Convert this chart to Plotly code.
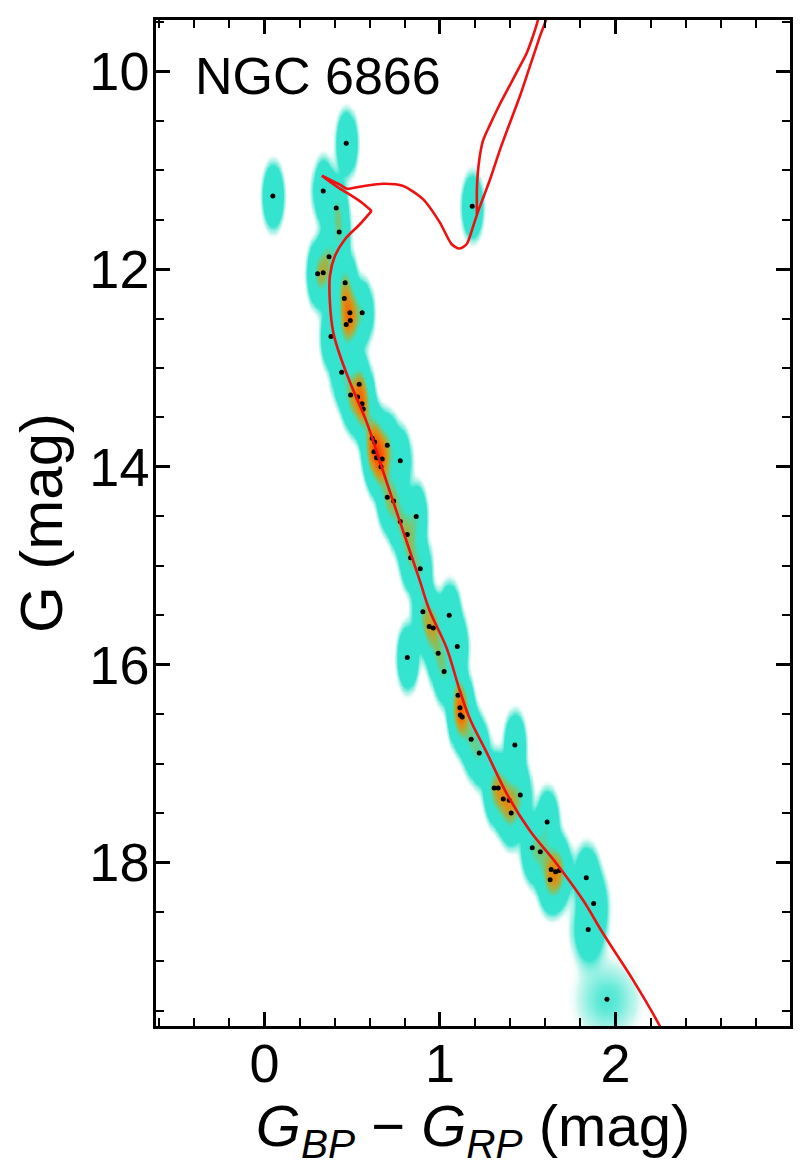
import numpy as np
import plotly.graph_objects as go

# ---- member stars (Gaia colour, G magnitude) ----
bp_rp = [0.466, 0.048, 0.335, 0.409, 0.426, 0.368, 0.303, 0.335, 0.460, 0.455,
         0.487, 0.557, 0.489, 0.466, 0.379, 1.184, 0.440, 0.540, 0.491, 0.531,
         0.556, 0.563, 0.614, 0.628, 0.700, 0.624, 0.639, 0.671, 0.774, 0.664,
         0.700, 0.736, 0.865, 0.774, 0.814, 0.833, 0.888, 0.903, 1.053, 0.939,
         0.962, 1.099, 0.814, 0.990, 1.024, 1.103, 1.114, 1.116, 1.127, 1.178,
         1.224, 1.427, 1.309, 1.332, 1.361, 1.395, 1.458, 1.406, 1.611, 1.526,
         1.572, 1.634, 1.659, 1.680, 1.628, 1.834, 1.876, 1.845, 1.952]
gmag = [10.726, 11.260, 11.210, 11.381, 11.623, 11.875, 12.046, 12.036, 12.137, 12.298,
        12.440, 12.440, 12.520, 12.560, 12.681, 11.365, 13.044, 13.165, 13.273, 13.293,
        13.361, 13.414, 13.710, 13.747, 13.780, 13.848, 13.908, 13.921, 13.938, 13.999,
        14.308, 14.345, 14.503, 14.553, 14.684, 14.919, 15.030, 15.464, 15.501, 15.615,
        15.629, 15.817, 15.927, 15.884, 16.069, 16.310, 16.436, 16.509, 16.529, 16.754,
        16.895, 16.812, 17.248, 17.248, 17.359, 17.371, 17.319, 17.500, 17.591, 17.853,
        17.893, 18.072, 18.095, 18.082, 18.176, 18.155, 18.417, 18.679, 19.385]

# ---- isochrone: main sequence, turn-off hook, SGB + giant branches ----
ms_color = [2.265, 2.253, 2.101, 1.930, 1.816, 1.665, 1.513, 1.387, 1.262, 1.171,
            1.114, 1.038, 0.943, 0.883, 0.772, 0.677, 0.582, 0.487, 0.421, 0.392,
            0.373, 0.373, 0.402, 0.459, 0.544, 0.611]
ms_g = [19.70, 19.655, 19.191, 18.720, 18.384, 18.014, 17.681, 17.326, 16.872, 16.550,
        16.267, 15.831, 15.461, 15.138, 14.553, 14.049, 13.545, 13.142, 12.823, 12.638,
        12.336, 12.067, 11.865, 11.698, 11.546, 11.411]
hook_color = [0.611, 0.556, 0.487, 0.430, 0.373, 0.328]
hook_g = [11.411, 11.328, 11.247, 11.186, 11.116, 11.055]
giant_color = [0.328, 0.373, 0.430, 0.470, 0.544, 0.677, 0.791, 0.905, 1.000, 1.067,
               1.110, 1.152, 1.190, 1.217, 1.251, 1.285, 1.342, 1.405, 1.456, 1.513,
               1.570, 1.615, 1.570, 1.558, 1.530, 1.494, 1.444, 1.399, 1.342, 1.285,
               1.245, 1.222, 1.211, 1.211]
giant_g = [11.055, 11.096, 11.146, 11.186, 11.166, 11.136, 11.159, 11.294, 11.529, 11.748,
           11.791, 11.748, 11.563, 11.418, 11.257, 11.096, 10.793, 10.491, 10.249, 9.947,
           9.644, 9.392, 9.311, 9.483, 9.644, 9.816, 9.987, 10.138, 10.330, 10.541,
           10.703, 10.924, 11.176, 11.448]

x_ticks = [0, 1, 2]
y_ticks = [10, 12, 14, 16, 18]
cluster_name = "NGC 6866"

# ---- smoothed density of the members ----
gx = np.arange(-0.62, 3.0, 0.012)
gy = np.arange(9.48, 19.67, 0.025)
X, Y = np.meshgrid(gx, gy)
Z = np.zeros_like(X)
sx0, sy0 = 0.03, 0.16
for c, m in zip(bp_rp, gmag):
    f = np.exp((m - 19.4) / 0.45)
    sx = sx0 + 0.10 * f
    sy = sy0 + 0.11 * f
    Z += (sx0 * sy0) / (sx * sy) * np.exp(-0.5 * ((X - c) / sx) ** 2 - 0.5 * ((Y - m) / sy) ** 2)

cscale = [[0.0, 'rgba(255,255,255,0)'], [0.004, 'rgba(255,255,255,0)'],
          [0.012, 'rgba(200,246,238,1)'], [0.032, 'rgb(52,228,206)'],
          [0.2, 'rgb(52,228,206)'],
          [0.32, 'rgb(140,190,90)'], [0.45, 'rgb(215,150,25)'],
          [0.7, 'rgb(255,90,0)'], [1.0, 'rgb(230,20,0)']]

font_family = "Liberation Sans, Arial, sans-serif"
red = '#ee1111'

fig = go.Figure()
fig.add_trace(go.Heatmap(x=gx, y=gy, z=Z, zmin=0, zmax=5, colorscale=cscale,
                         showscale=False, zsmooth='best', hoverinfo='skip'))
fig.add_trace(go.Scatter(x=bp_rp, y=gmag, mode='markers',
                         marker=dict(color='black', size=5), showlegend=False))
fig.add_trace(go.Scatter(x=ms_color, y=ms_g, mode='lines',
                         line=dict(color=red, width=2.6, shape='spline', smoothing=1.0),
                         showlegend=False))
fig.add_trace(go.Scatter(x=hook_color, y=hook_g, mode='lines',
                         line=dict(color=red, width=2.6, shape='spline', smoothing=0.5),
                         showlegend=False))
fig.add_trace(go.Scatter(x=giant_color, y=giant_g, mode='lines',
                         line=dict(color=red, width=2.6, shape='spline', smoothing=0.7),
                         showlegend=False))

fig.add_annotation(x=-0.41, y=10.05, xref='x', yref='y', text=cluster_name,
                   showarrow=False, xanchor='left', yanchor='middle',
                   font=dict(size=52, color='black', family=font_family))

axis_common = dict(showline=True, linecolor='black', linewidth=2.5, mirror='allticks',
                   ticks='inside', ticklen=14, tickwidth=2.5, tickcolor='black',
                   showgrid=False, zeroline=False,
                   tickfont=dict(size=54, color='black', family=font_family))

fig.update_xaxes(range=[-0.618, 2.995], tickvals=x_ticks, ticklabelstandoff=-12,
                 minor=dict(dtick=0.2, tick0=0, ticks='inside', ticklen=8,
                            tickwidth=2, tickcolor='black', showgrid=False),
                 title=dict(text='<i>G</i><sub><i>BP</i></sub> \u2212 <i>G</i><sub><i>RP</i></sub> (mag)',
                            font=dict(size=58, color='black', family=font_family), standoff=12),
                 **axis_common)
fig.update_yaxes(range=[19.655, 9.48], tickvals=y_ticks, ticklabelstandoff=-7,
                 minor=dict(dtick=0.5, tick0=0, ticks='inside', ticklen=8,
                            tickwidth=2, tickcolor='black', showgrid=False),
                 title=dict(text='G (mag)', font=dict(size=60, color='black', family=font_family),
                            standoff=14),
                 **axis_common)

# the page body adds an 8px offset; margins compensate so the plot area sits where the reference has it
fig.update_layout(width=806, height=1170, margin=dict(l=148, r=24, t=9, b=152),
                  plot_bgcolor='white', paper_bgcolor='white',
                  font=dict(family=font_family, color='black'))

fig.write_html("out.html")
